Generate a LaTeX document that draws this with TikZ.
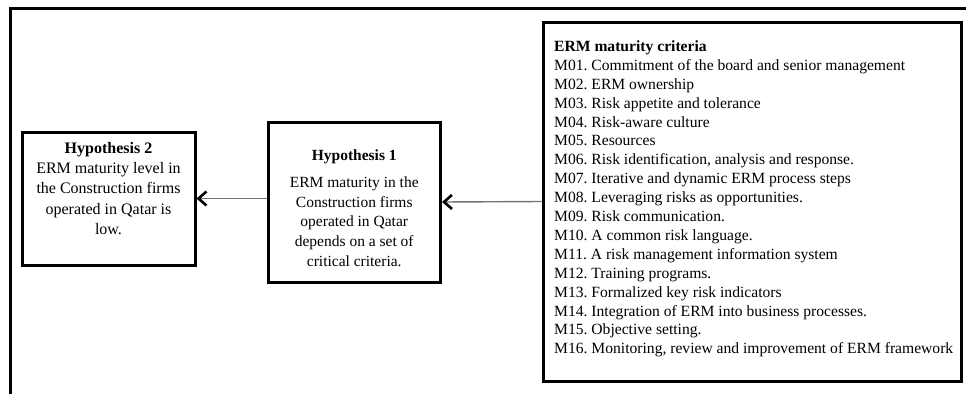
\documentclass[tikz,border=0pt]{standalone}
\usepackage{fontspec}
\setmainfont{Liberation Serif}
\usetikzlibrary{arrows.meta}
\frenchspacing
\begin{document}
\begin{tikzpicture}[x=1pt,y=-1pt,
  frame/.style={draw=black,line width=3pt},
  hbox/.style={draw=black,line width=3pt,fill=white,inner sep=0pt},
  txt/.style={inner sep=0pt,align=center},
  link/.style={draw=black!55,line width=1.4pt,
    -{Straight Barb[length=8pt,width=14pt,line width=2.6pt,color=black]}}]
\useasboundingbox[fill=white] (0,0) rectangle (966,394);

% outer frame (top and left edges)
\draw[frame] (10,394) -- (10,8.5) -- (966,8.5);

% boxes
\node[hbox,minimum width=418pt,minimum height=359pt] (crit) at (752,201.5) {};
\node[hbox,minimum width=172.5pt,minimum height=160pt] (h1) at (354.25,202) {};
\node[hbox,minimum width=173pt,minimum height=133pt] (h2) at (108.5,198.5) {};

% texts
\node[txt,align=left,anchor=north west,font=\fontsize{15.6}{18.9}\selectfont] (crittext) at (554,40.4) {%
\textbf{ERM maturity criteria}\\
M01. Commitment of the board and senior management\\
M02. ERM ownership\\
M03. Risk appetite and tolerance\\
M04. Risk-aware culture\\
M05. Resources\\
M06. Risk identification, analysis and response.\\
M07. Iterative and dynamic ERM process steps\\
M08. Leveraging risks as opportunities.\\
M09. Risk communication.\\
M10. A common risk language.\\
M11. A risk management information system\\
M12. Training programs.\\
M13. Formalized key risk indicators\\
M14. Integration of ERM into business processes.\\
M15. Objective setting.\\
M16. Monitoring, review and improvement of ERM framework};

\node[txt,anchor=north,font=\fontsize{15.5}{19.7}\selectfont] (h1text) at (354.25,149.4) {%
\textbf{Hypothesis 1}\\[7.3pt]
ERM maturity in the\\
Construction firms\\
operated in Qatar\\
depends on a set of\\
critical criteria.};

\node[txt,anchor=north,font=\fontsize{16}{20.3}\selectfont] (h2text) at (108.5,142) {%
\textbf{Hypothesis 2}\\
ERM maturity level in\\
the Construction firms\\
operated in Qatar is\\
low.};

% connectors
\draw[link] (crit.west) -- (h1.east);
\draw[link] (h1.west |- h2.east) -- (h2.east);
\end{tikzpicture}
\end{document}
